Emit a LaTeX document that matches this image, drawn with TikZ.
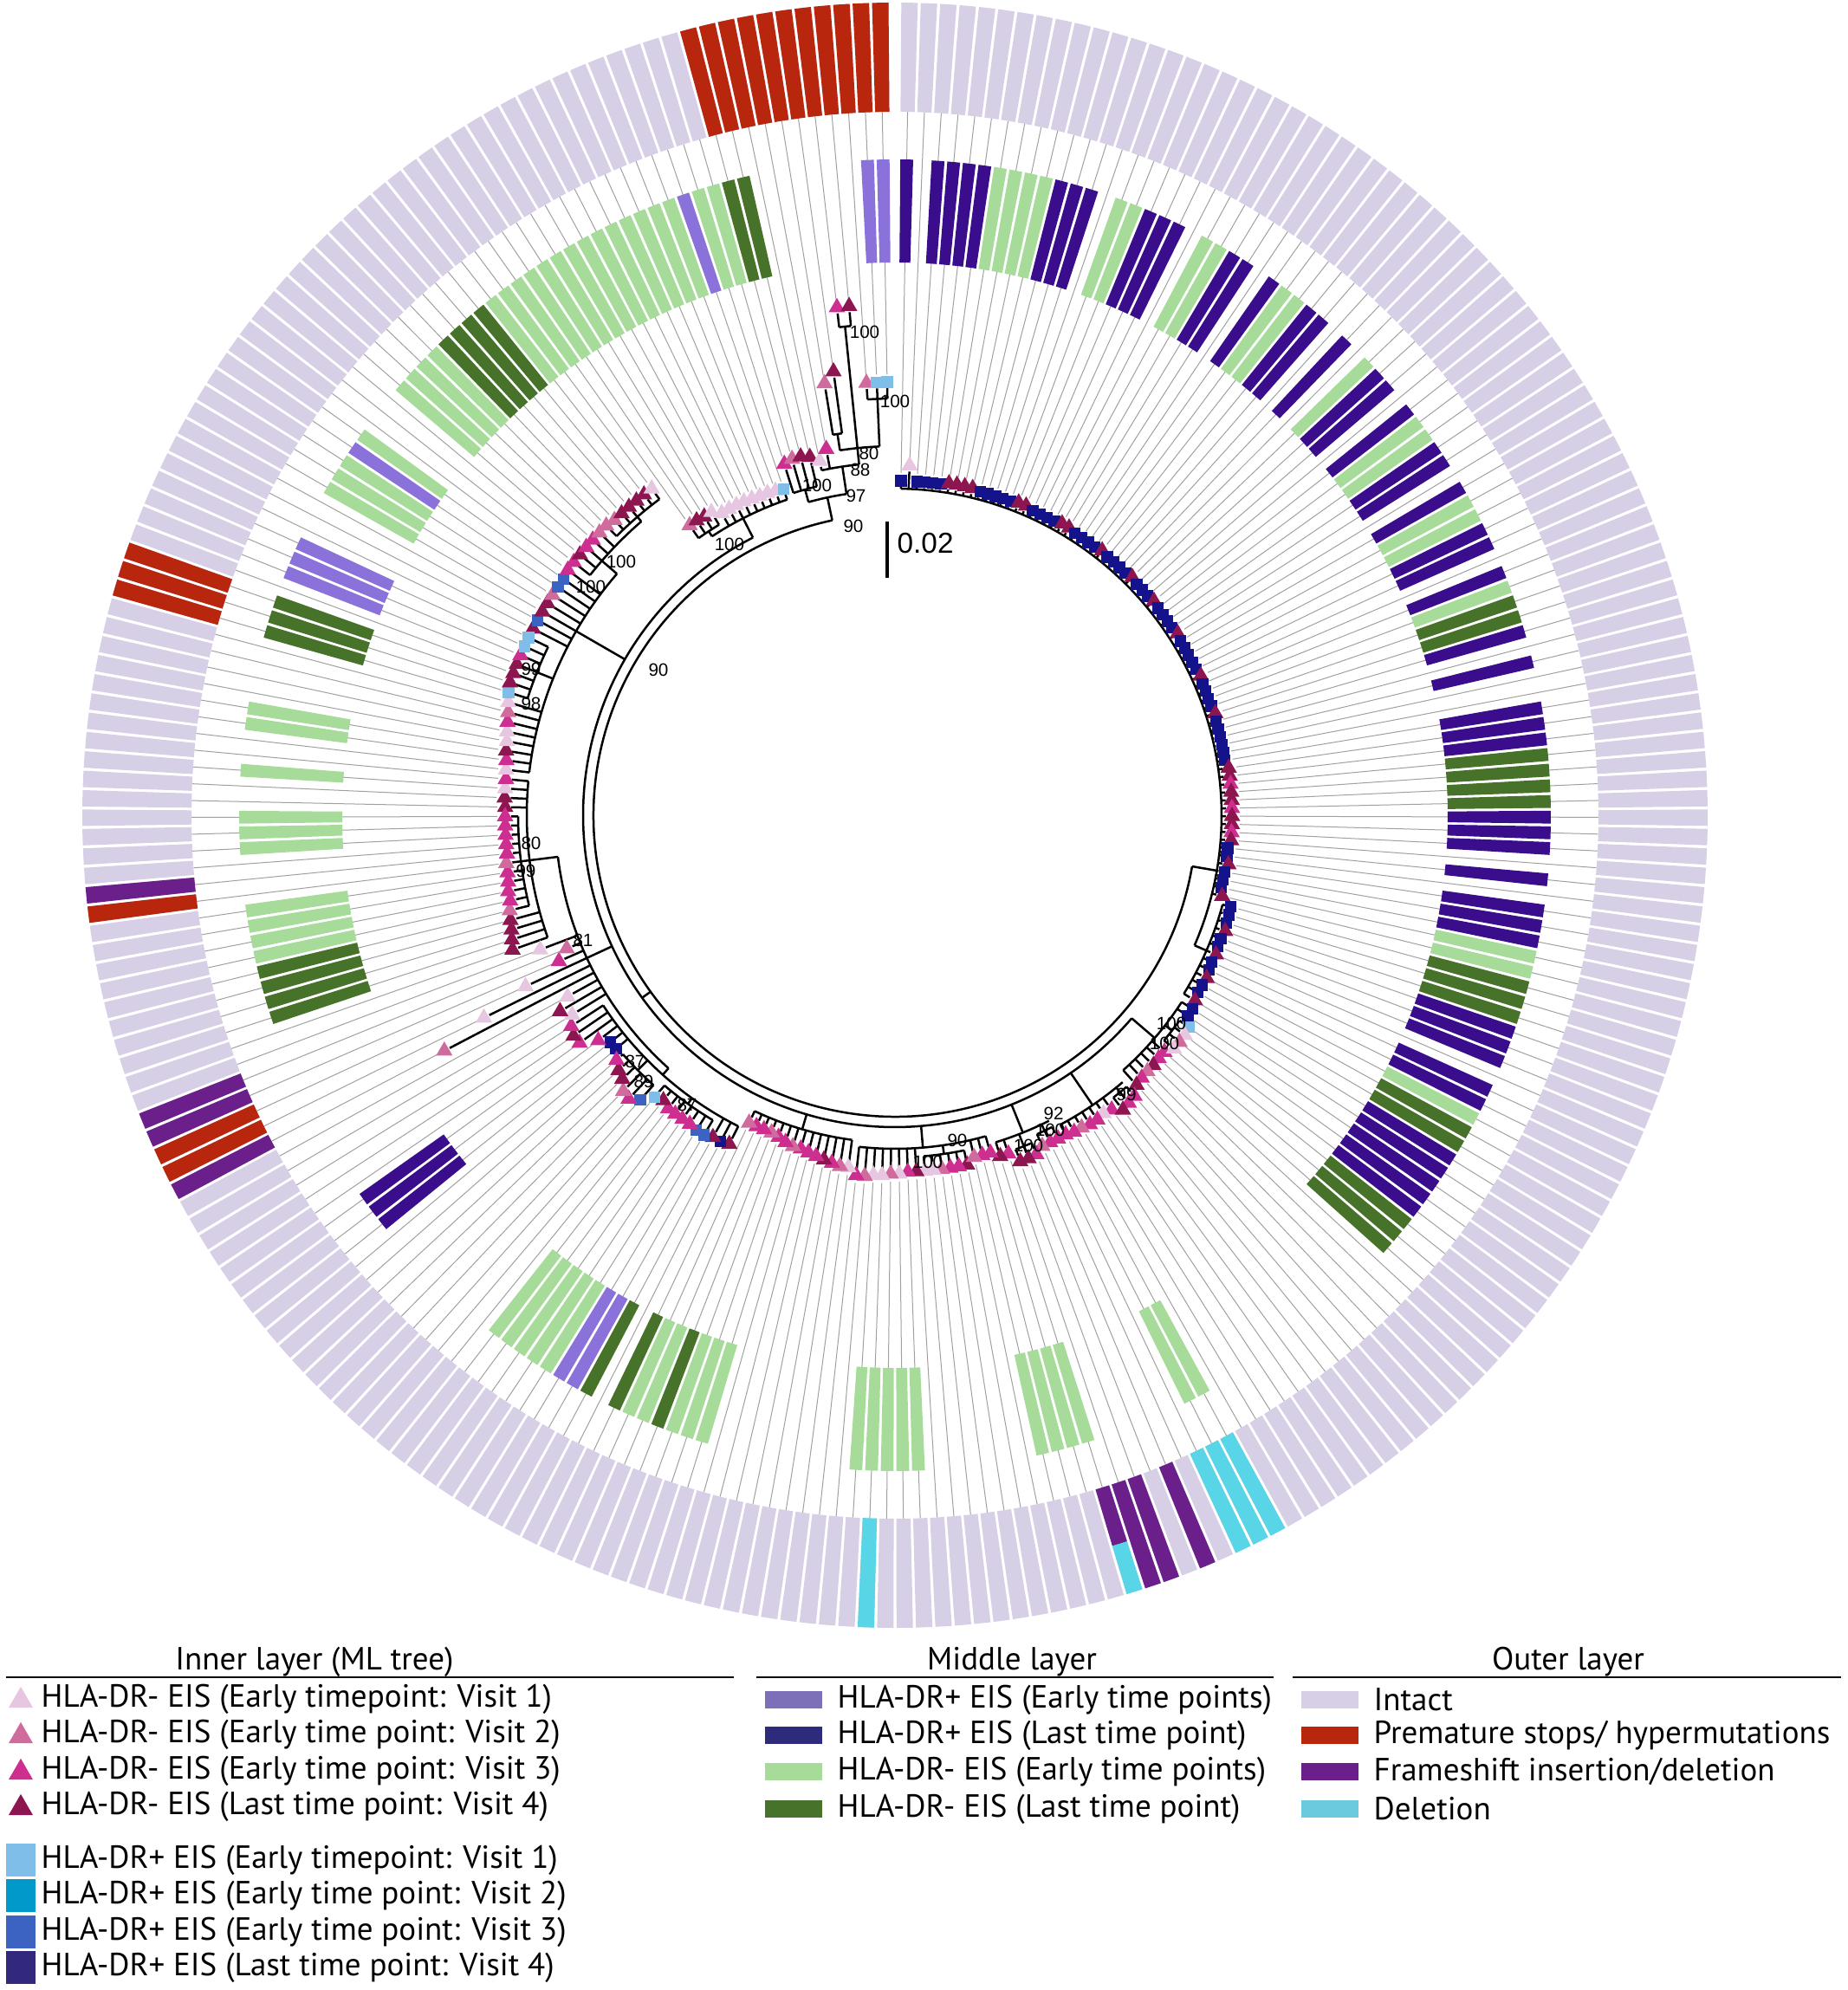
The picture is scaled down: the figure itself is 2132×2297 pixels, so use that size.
\documentclass[tikz,border=0pt]{standalone}
\usepackage{fontspec}
\setmainfont{PT Sans}
\newfontfamily\treelabfam{Liberation Sans}
\usetikzlibrary{shapes.geometric}
\definecolor{cT1}{HTML}{E6C6E0}
\definecolor{cT2}{HTML}{D06C9D}
\definecolor{cT3}{HTML}{CD2E8F}
\definecolor{cT4}{HTML}{8D1550}
\definecolor{cS1}{HTML}{7FBEE9}
\definecolor{cS2}{HTML}{0099C9}
\definecolor{cS3}{HTML}{3D63C2}
\definecolor{cS4}{HTML}{14138C}
\definecolor{cS4L}{HTML}{33297C}
\definecolor{mLP}{HTML}{8B72DB}
\definecolor{mI}{HTML}{3A0D8C}
\definecolor{mG}{HTML}{A7DB9A}
\definecolor{mDG}{HTML}{46722A}
\definecolor{lLP}{HTML}{7E70B8}
\definecolor{lI}{HTML}{2E2A7C}
\definecolor{lav}{HTML}{D6CFE6}
\definecolor{ored}{HTML}{B8260E}
\definecolor{opur}{HTML}{6B1F8B}
\definecolor{ocya}{HTML}{58D5E6}
\definecolor{lcya}{HTML}{6CCADF}
\definecolor{leadc}{HTML}{A0A0A0}
\newcommand\labfont{\treelabfam\fontsize{6.2}{7}\selectfont}
\newcommand\legfont{\fontsize{11.1}{13}\selectfont}
\tikzset{
 br/.style={line width=0.75pt, black},
 leader/.style={line width=0.3pt, leadc},
 tri/.style={regular polygon, regular polygon sides=3, inner sep=0pt, minimum size=6.6pt, draw=none},
 sqr/.style={rectangle, inner sep=0pt, minimum size=4pt, draw=none},
 mka/.style={tri, fill=cT1}, mkb/.style={tri, fill=cT2}, mkc/.style={tri, fill=cT3}, mkd/.style={tri, fill=cT4},
 mke/.style={sqr, fill=cS1}, mkf/.style={sqr, fill=cS2}, mkg/.style={sqr, fill=cS3}, mkh/.style={sqr, fill=cS4},
 lab/.style={font=\labfont, inner sep=0pt},
 legtxt/.style={anchor=west, inner sep=0pt, font=\legfont},
 hdr/.style={inner sep=0pt, font=\legfont},
 legtri/.style={regular polygon, regular polygon sides=3, inner sep=0pt, minimum size=9.7pt, draw=none},
 legsq/.style={rectangle, inner sep=0pt, minimum width=10.2pt, minimum height=11.4pt, draw=none},
 legpatch/.style={rectangle, inner sep=0pt, minimum width=19.8pt, minimum height=6pt, draw=none},
}
\newcommand\tang[1]{(1.3714*(#1+0.75))}
\newcommand\tarc[3]{\draw[br] ({90-\tang{#2}}:#1) arc[start angle={90-\tang{#2}}, end angle={90-\tang{#3}}, radius=#1];}
\newcommand\tstem[3]{\draw[br] ({90-\tang{#1}}:#2) -- ({90-\tang{#1}}:#3);}
\newcommand\seg[5]{\pgfmathsetmacro\sa{90-1.3714*(#2+0.75)}\pgfmathsetmacro\sb{\sa+#5}\pgfmathsetmacro\sc{\sa-#5}%
 \fill[fill=#1] (\sb:#3) arc[start angle=\sb, end angle=\sc, radius=#3] -- (\sc:#4) arc[start angle=\sc, end angle=\sb, radius=#4] -- cycle;}
\newcommand\tipleader[4]{\pgfmathsetmacro\sa{90-1.3714*(#1+0.75)}\pgfmathsetmacro\ra{#4+9}\draw[leader] (\sa:\ra) -- (\sa:812);}
\newcommand\tipbranch[4]{\pgfmathsetmacro\sa{90-1.3714*(#1+0.75)}\pgfmathsetmacro\ra{#4-7}\draw[br] (\sa:#3) -- (\sa:\ra);}
\newcommand\tipmark[4]{\pgfmathsetmacro\sa{90-1.3714*(#1+0.75)}\node[mk#2] (t#1) at (\sa:#4) {};}
\newcommand\tips[2]{\foreach \ti/\tm/\tr in {#2}{\edef\tipcall{\noexpand\tipdo{\ti}{\tm}{#1}{\tr}}\tipcall}}
\newcommand\alltips{%
\tips{377}{0/h/386,2/h/386,3/h/386,4/h/386,5/h/386,6/d/388,7/d/388,8/d/388,9/d/388,10/h/386,11/h/386,12/h/386,13/h/386,14/h/386,15/d/388,16/d/388,17/h/386,18/h/386,19/h/386,20/h/386,21/d/388,22/d/388,23/h/386,24/h/386,25/h/386,26/h/386,27/d/388,28/h/386,29/h/386,30/h/386,31/h/386,32/d/388,33/h/386,34/h/386,35/h/386,36/d/388,37/h/386,38/h/386,39/h/386,40/h/386,41/d/388,42/h/386,43/h/386,44/h/386,45/h/386,46/h/386,47/d/388,48/h/386,49/h/386,50/h/386,51/h/386,52/d/388,53/h/386,54/h/386,55/h/386,56/h/386,57/h/386,58/h/386,59/d/389,60/d/389,61/c/389,62/d/389,63/d/389,64/c/389,65/d/389,66/d/389,67/c/389,68/d/389,69/h/386,70/h/386,71/d/389,72/h/386,73/h/386,74/h/386,75/d/389,1/a/404}%
\tips{392}{76/h/402,77/h/402,78/h/402,79/d/404,80/h/402,81/h/402,82/d/404,83/h/403,84/h/404,85/d/406,86/h/405,87/h/405,88/d/407}%
\tips{395}{89/h/410,90/h/410,95/c/414,96/c/414,97/d/415,98/b/415,99/c/416,100/d/418}%
\tips{405}{91/e/418,92/a/420,93/b/420,94/a/420,104/c/422,105/a/420,106/c/422,107/c/422,108/b/420,109/c/420,110/c/418}%
\tips{412}{101/c/426,102/c/428,103/d/430}%
\tips{403}{111/c/418,112/c/418,113/b/418}%
\tips{410}{114/c/424,115/d/425,116/d/425}%
\tips{395}{117/c/412,118/d/412,122/d/412,123/c/412,124/c/412,125/b/412,126/a/412,127/a/412}%
\tips{385}{119/c/405,120/c/405,121/b/405,128/d/412,129/c/412,130/a/414,131/b/414,132/a/416,133/a/416,134/b/418,135/c/418}%
\tips{378}{136/a/410,137/b/410,138/c/408,139/d/406,140/c/404,141/c/402,142/c/400,143/b/400,144/c/398,145/c/395,146/b/393,147/c/393,148/c/393,149/b/393}%
\tips{402}{150/d/425,151/h/427,152/d/427,167/h/420,168/h/420,169/c/430,170/c/449,171/d/450,172/c/446}%
\tips{410}{153/g/430,154/g/430,155/c/428,156/c/428,157/c/428,158/c/428,159/d/424,160/e/428}%
\tips{418}{161/g/441,162/c/449,163/b/447,164/d/438,165/d/434,166/c/428}%
\tips{392}{173/a/438,174/d/448,175/a/432,176/b/587,177/a/529,178/a/470,179/c/423,180/b/409,181/a/438}%
\tips{425}{182/d/468,183/d/465,184/d/462,185/d/460,197/d/450,198/d/451,199/a/451,200/c/451}%
\tips{435}{186/b/458,187/c/455,188/c/455,189/c/453,190/c/452,191/b/452,192/c/450,193/c/450,194/c/450,195/c/450,196/c/450}%
\tips{425}{201/a/452,202/c/453,203/d/455,204/a/456,205/a/458,206/c/460,207/b/462,208/a/465,216/d/470,217/g/470,218/d/470,219/d/470,220/b/470,221/g/470,222/g/470,223/c/472}%
\tips{445}{209/e/468,210/d/470,211/d/470,212/d/470,213/c/470,214/e/470,215/e/470}%
\tips{448}{224/c/472,225/d/472,226/c/472,227/c/472,228/b/472}%
\tips{455}{229/b/472,230/b/470,231/d/470,232/d/470,233/d/470,234/d/470,235/a/470}%
\tips{385}{240/a/402,241/a/402,242/a/402,243/a/402,244/a/401,245/a/400,246/a/400,247/a/399,248/e/398}%
\tips{392}{236/b/410,237/d/410,238/d/409,239/a/409}%
\tips{390}{249/c/425,250/b/428,251/d/428,252/d/425}%
\tips{407}{253/a/418,254/c/430}%
\tips{445}{255/b/505,256/d/517}%
\tips{567}{257/c/590,258/d/590}%
\tips{481}{259/b/500,260/e/500,261/e/500}%
}
\begin{document}
\begin{tikzpicture}[x=0.3pt,y=0.3pt]
\useasboundingbox (-1033,-1356) rectangle (1099,941);
% leader lines
\let\tipdo\tipleader \alltips
% outer ring
\foreach \ti in {0,...,261}{\seg{lav}{\ti}{812}{938}{0.58}}
\foreach \ti/\tc in {110/ocya,111/ocya,112/ocya,114/opur,116/opur,117/opur,132/ocya,176/opur,177/ored,178/ored,179/opur,180/opur,191/ored,192/opur,208/ored,209/ored,210/ored,251/ored,252/ored,253/ored,254/ored,255/ored,256/ored,257/ored,258/ored,259/ored,260/ored,261/ored}{\seg{\tc}{\ti}{812}{938}{0.58}}
\seg{opur}{118}{812}{880}{0.58}
\seg{ocya}{118}{880}{938}{0.58}
% middle ring
\foreach \ti/\tc in {0/mI,2/mI,3/mI,4/mI,5/mI,6/mG,7/mG,8/mG,9/mG,10/mI,11/mI,12/mI,14/mG,15/mG,16/mI,17/mI,18/mI,20/mG,21/mG,22/mI,23/mI,25/mI,26/mG,27/mG,28/mI,29/mI,31/mI,33/mG,34/mI,35/mI,37/mI,38/mG,39/mG,40/mI,41/mI,43/mI,44/mG,45/mG,46/mI,47/mI,49/mI,50/mG,51/mDG,52/mDG,53/mI,55/mI,58/mI,59/mI,60/mI,61/mDG,62/mDG,63/mDG,64/mDG,65/mI,66/mI,67/mI,69/mI,71/mI,72/mI,73/mI,74/mG,75/mG,76/mDG,77/mDG,78/mDG,79/mI,80/mI,81/mI,83/mI,84/mI,85/mG,86/mDG,87/mDG,88/mI,89/mI,90/mI,91/mI,92/mI,93/mDG,94/mDG,95/mDG,110/mG,111/mG,118/mG,119/mG,120/mG,121/mG,129/mG,130/mG,131/mG,132/mG,133/mG,143/mG,144/mG,145/mG,146/mDG,147/mG,148/mG,149/mDG,151/mDG,152/mLP,153/mLP,154/mG,155/mG,156/mG,157/mG,158/mG,168/mI,169/mI,170/mI,183/mDG,184/mDG,185/mDG,186/mDG,187/mG,188/mG,189/mG,190/mG,194/mG,195/mG,196/mG,199/mG,202/mG,203/mG,208/mDG,209/mDG,210/mDG,212/mLP,213/mLP,214/mLP,218/mG,219/mG,220/mG,221/mLP,222/mG,226/mG,227/mG,228/mG,229/mG,230/mDG,231/mDG,232/mDG,233/mDG,234/mG,235/mG,236/mG,237/mG,238/mG,239/mG,240/mG,241/mG,242/mG,243/mG,244/mG,245/mG,246/mG,247/mG,248/mLP,249/mG,250/mG,251/mDG,252/mDG,260/mLP,261/mLP}{\seg{\tc}{\ti}{638}{757}{0.56}}
% tree backbone
\tarc{377}{0}{82}
\tstem{72}{348}{377}
\tstem{82}{377}{392}\tarc{392}{76}{88}
\tarc{348}{72}{253}
\tstem{170}{348}{360}\tarc{360}{94.5}{242}
\tstem{94.5}{360}{395}\tarc{395}{89}{100}\tstem{92.5}{395}{405}\tarc{405}{91}{94}
\tstem{105.5}{360}{405}\tarc{405}{101}{110}\tstem{102}{405}{412}\tarc{412}{101}{103}
\tstem{114.5}{360}{395}\tarc{395}{111}{118}\tstem{112}{395}{403}\tarc{403}{111}{113}\tstem{115}{395}{410}\tarc{410}{114}{116}
\tstem{127}{360}{385}\tarc{385}{119}{135}\tstem{124.5}{385}{395}\tarc{395}{122}{127}
\tstem{142.5}{360}{378}\tarc{378}{136}{149}
\tstem{178}{360}{392}\tarc{392}{161}{191}
\tstem{161}{392}{402}\tarc{402}{150}{172}\tstem{156.5}{402}{410}\tarc{410}{153}{160}\tstem{163.5}{402}{418}\tarc{418}{161}{166}
\tstem{191}{392}{425}\tarc{425}{182}{200}\tstem{191}{425}{435}\tarc{435}{186}{196}
\tstem{218}{360}{425}\tarc{425}{201}{226}
\tstem{212}{425}{445}\tarc{445}{209}{215}
\tstem{226}{425}{448}\tarc{448}{224}{232}\tstem{232}{448}{455}\tarc{455}{229}{235}
\tstem{242}{360}{385}\tarc{385}{237.5}{248}\tstem{237.5}{385}{392}\tarc{392}{236}{239}
\tstem{253}{348}{375}\tarc{375}{250.5}{255.5}
\tstem{250.5}{375}{390}\tarc{390}{249}{252}
\tstem{255.5}{375}{407}\tarc{407}{253}{257.5}
\tstem{257.5}{407}{426}\tarc{426}{255.5}{260}
\tstem{255.5}{426}{445}\tarc{445}{255}{256}
\tstem{257.5}{426}{567}\tarc{567}{257}{258}
\tstem{260}{426}{481}\tarc{481}{259}{261}
% tip branches and markers
\let\tipdo\tipbranch \alltips
\let\tipdo\tipmark \alltips
% bootstrap labels
\node[lab] (b1) at (-35,558) {100};
\node[lab] (b2) at (0,478) {100};
\node[lab] (b3) at (-30,418) {80};
\node[lab] (b4) at (-40,399) {88};
\node[lab] (b5) at (-45,369) {97};
\node[lab] (b6) at (-48,334) {90};
\node[lab] (b7) at (-90,381) {100};
\node[lab] (b8) at (-191,313) {100};
\node[lab] (b9) at (-316,293) {100};
\node[lab] (b10) at (-351,264) {100};
\node[lab] (b11) at (-273,168) {90};
\node[lab] (b12) at (-420,169) {99};
\node[lab] (b13) at (-420,129) {98};
\node[lab] (b14) at (-420,-32) {80};
\node[lab] (b15) at (-426,-64) {99};
\node[lab] (b16) at (-360,-144) {81};
\node[lab] (b17) at (-300,-284) {87};
\node[lab] (b18) at (-290,-307) {89};
\node[lab] (b19) at (-240,-334) {87};
\node[lab] (b20) at (38,-400) {100};
\node[lab] (b21) at (72,-375) {90};
\node[lab] (b22) at (154,-381) {100};
\node[lab] (b23) at (179,-363) {100};
\node[lab] (b24) at (183,-344) {92};
\node[lab] (b25) at (267,-322) {99};
\node[lab] (b26) at (319,-240) {100};
\node[lab] (b27) at (311,-263) {100};
% scale bar
\coordinate (sbA) at (-9,339);
\coordinate (sbB) at (-9,274);
\draw[line width=1.2pt] (sbA) -- (sbB);
\node[anchor=west, inner sep=0pt, font=\treelabfam\fontsize{10}{12}\selectfont] (sbl) at (2,314) {0.02};
% legend headers
\node[hdr] (h1) at (-670,-977) {Inner layer (ML tree)};
\node[hdr] (h2) at (135,-977) {Middle layer};
\node[hdr] (h3) at (777,-977) {Outer layer};
\coordinate (u1a) at (-1026,-995); \coordinate (u1b) at (-186,-995);
\coordinate (u2a) at (-160,-995); \coordinate (u2b) at (437,-995);
\coordinate (u3a) at (459,-995); \coordinate (u3b) at (1092,-995);
\draw[line width=0.6pt] (u1a) -- (u1b);
\draw[line width=0.6pt] (u2a) -- (u2b);
\draw[line width=0.6pt] (u3a) -- (u3b);
% inner legend
\node[legtri, fill=cT1] (k1) at (-1009,-1022) {};
\node[legtxt] (k1t) at (-986,-1020) {HLA-DR- EIS (Early timepoint: Visit 1)};
\node[legtri, fill=cT2] (k2) at (-1009,-1063) {};
\node[legtxt] (k2t) at (-986,-1061) {HLA-DR- EIS (Early time point: Visit 2)};
\node[legtri, fill=cT3] (k3) at (-1009,-1105) {};
\node[legtxt] (k3t) at (-986,-1103) {HLA-DR- EIS (Early time point: Visit 3)};
\node[legtri, fill=cT4] (k4) at (-1009,-1146) {};
\node[legtxt] (k4t) at (-986,-1144) {HLA-DR- EIS (Last time point: Visit 4)};
\node[legsq, fill=cS1] (k5) at (-1009,-1206) {};
\node[legtxt] (k5t) at (-986,-1206) {HLA-DR+ EIS (Early timepoint: Visit 1)};
\node[legsq, fill=cS2] (k6) at (-1009,-1247) {};
\node[legtxt] (k6t) at (-986,-1247) {HLA-DR+ EIS (Early time point: Visit 2)};
\node[legsq, fill=cS3] (k7) at (-1009,-1289) {};
\node[legtxt] (k7t) at (-986,-1289) {HLA-DR+ EIS (Early time point: Visit 3)};
\node[legsq, fill=cS4L] (k8) at (-1009,-1330) {};
\node[legtxt] (k8t) at (-986,-1330) {HLA-DR+ EIS (Last time point: Visit 4)};
% middle legend
\node[legpatch, fill=lLP] (m1) at (-117,-1021) {};
\node[legtxt] (m1t) at (-67,-1021) {HLA-DR+ EIS (Early time points)};
\node[legpatch, fill=lI] (m2) at (-117,-1062) {};
\node[legtxt] (m2t) at (-67,-1062) {HLA-DR+ EIS (Last time point)};
\node[legpatch, fill=mG] (m3) at (-117,-1104) {};
\node[legtxt] (m3t) at (-67,-1104) {HLA-DR- EIS (Early time points)};
\node[legpatch, fill=mDG] (m4) at (-117,-1147) {};
\node[legtxt] (m4t) at (-67,-1147) {HLA-DR- EIS (Last time point)};
% outer legend
\node[legpatch, fill=lav] (o1) at (502,-1021) {};
\node[legtxt] (o1t) at (552,-1021) {Intact};
\node[legpatch, fill=ored] (o2) at (502,-1062) {};
\node[legtxt] (o2t) at (552,-1062) {Premature stops/ hypermutations};
\node[legpatch, fill=opur] (o3) at (502,-1104) {};
\node[legtxt] (o3t) at (552,-1104) {Frameshift insertion/deletion};
\node[legpatch, fill=lcya] (o4) at (502,-1147) {};
\node[legtxt] (o4t) at (552,-1147) {Deletion};
\end{tikzpicture}
\end{document}
